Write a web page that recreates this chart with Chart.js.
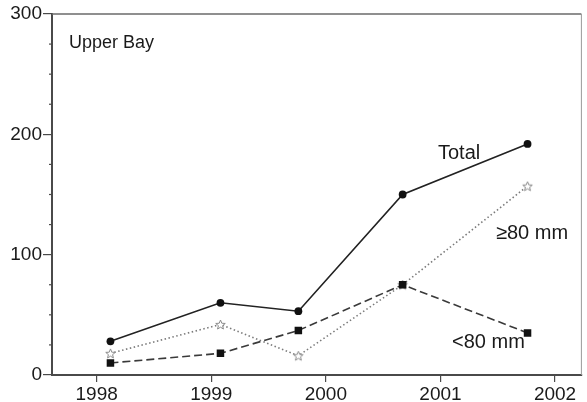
<!DOCTYPE html>
<html>
<head>
<meta charset="utf-8">
<script src="https://cdn.jsdelivr.net/npm/chart.js@4"></script>
<style>
  html, body { margin: 0; padding: 0; background: #fff; }
  #wrap { width: 587px; height: 402px; }
</style>
</head>
<body>
<div id="wrap"><canvas id="c" width="587" height="402"></canvas></div>
<script>
// Sampling dates (decimal years) and fish counts per size class
const sampleDates = [1998.12, 1999.08, 1999.76, 2000.67, 2001.76];
const totalCount = [28, 60, 53, 150, 192];
const over80Count = [18, 42, 16, 75, 157];
const under80Count = [10, 18, 37, 75, 35];
const xTickYears = [1998, 1999, 2000, 2001, 2002];
const yTickValues = [0, 100, 200, 300];
const yMinorValues = [25, 50, 75, 125, 150, 175, 225, 250, 275];

const FONT = '"Liberation Sans", Arial, Helvetica, sans-serif';
const AXIS = '#4a4a4a';

function toPoints(vals) {
  return sampleDates.map((d, i) => ({ x: d, y: vals[i] }));
}

// Open five-pointed star used as the marker for the >=80 mm series
function starMarker() {
  const s = 13, c = document.createElement('canvas');
  c.width = s; c.height = s;
  const g = c.getContext('2d');
  const cx = s / 2, cy = s / 2 + 0.5, ro = 5, ri = 2.2;
  g.beginPath();
  for (let i = 0; i < 10; i++) {
    const r = i % 2 ? ri : ro;
    const a = -Math.PI / 2 + i * Math.PI / 5;
    const px = cx + r * Math.cos(a), py = cy + r * Math.sin(a);
    i ? g.lineTo(px, py) : g.moveTo(px, py);
  }
  g.closePath();
  g.fillStyle = '#fff';
  g.fill();
  g.strokeStyle = '#8a8a8a';
  g.lineWidth = 1;
  g.stroke();
  return c;
}

const framePlugin = {
  id: 'frame',
  afterDraw(chart) {
    const { ctx, chartArea: { left, top, right, bottom }, scales: { y } } = chart;
    ctx.save();
    // top and right edges of the box
    ctx.strokeStyle = '#6a6a6a';
    ctx.lineWidth = 1.5;
    ctx.beginPath();
    ctx.moveTo(left, top);
    ctx.lineTo(right, top);
    ctx.stroke();
    ctx.strokeStyle = '#9a9a9a';
    ctx.lineWidth = 1;
    ctx.beginPath();
    ctx.moveTo(right, top);
    ctx.lineTo(right, bottom);
    ctx.stroke();
    // minor ticks on the y axis
    ctx.strokeStyle = AXIS;
    ctx.lineWidth = 1.2;
    yMinorValues.forEach(v => {
      const py = y.getPixelForValue(v);
      ctx.beginPath();
      ctx.moveTo(left - 3, py);
      ctx.lineTo(left, py);
      ctx.stroke();
    });
    // panel and series labels
    ctx.fillStyle = '#1a1a1a';
    ctx.textBaseline = 'alphabetic';
    ctx.textAlign = 'left';
    ctx.font = '18px ' + FONT;
    ctx.fillText('Upper Bay', 69, 48);
    ctx.font = '20px ' + FONT;
    ctx.fillText('Total', 438, 159);
    ctx.fillText('\u226580 mm', 496, 239);
    ctx.fillText('<80 mm', 452, 348);
    ctx.restore();
  }
};

new Chart(document.getElementById('c'), {
  type: 'line',
  data: {
    datasets: [
      {
        label: '<80 mm',
        data: toPoints(under80Count),
        borderColor: '#3a3a3a',
        borderWidth: 1.6,
        borderDash: [8, 4],
        pointStyle: 'rect',
        pointRadius: 5.3,
        pointBackgroundColor: '#111',
        pointBorderColor: '#111',
        pointBorderWidth: 0,
        tension: 0
      },
      {
        label: '\u226580 mm',
        data: toPoints(over80Count),
        borderColor: '#7a7a7a',
        borderWidth: 1.6,
        borderDash: [1.5, 2.5],
        pointStyle: starMarker(),
        tension: 0
      },
      {
        label: 'Total',
        data: toPoints(totalCount),
        borderColor: '#222',
        borderWidth: 1.6,
        pointStyle: 'circle',
        pointRadius: 3.9,
        pointBackgroundColor: '#111',
        pointBorderColor: '#111',
        pointBorderWidth: 0,
        tension: 0
      }
    ]
  },
  options: {
    responsive: false,
    animation: false,
    devicePixelRatio: 1,
    layout: { padding: { top: 14, right: 3, left: 0, bottom: 0 } },
    plugins: { legend: { display: false }, tooltip: { enabled: false } },
    scales: {
      x: {
        type: 'linear',
        min: 1997.61,
        max: 2002.23,
        afterBuildTicks: s => { s.ticks = xTickYears.map(v => ({ value: v })); },
        afterFit: s => { s.height = 27; },
        grid: { display: true, drawOnChartArea: false, tickLength: 7, color: AXIS, lineWidth: 1.2 },
        border: { display: true, color: AXIS, width: 2 },
        ticks: {
          padding: 1,
          color: '#1a1a1a',
          font: { family: FONT, size: 19 },
          maxRotation: 0,
          callback: v => String(v)
        }
      },
      y: {
        min: 0,
        max: 300,
        afterBuildTicks: s => { s.ticks = yTickValues.map(v => ({ value: v })); },
        afterFit: s => { s.width = 52; },
        grid: { display: true, drawOnChartArea: false, tickLength: 9, color: AXIS, lineWidth: 1.2 },
        border: { display: true, color: AXIS, width: 2 },
        ticks: {
          padding: 1,
          color: '#1a1a1a',
          font: { family: FONT, size: 19 },
          callback: v => String(v)
        }
      }
    }
  },
  plugins: [framePlugin]
});
</script>
</body>
</html>
